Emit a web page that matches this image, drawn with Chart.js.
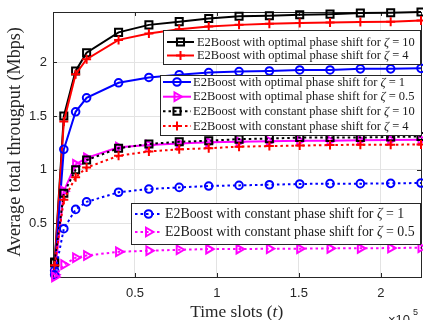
<!DOCTYPE html>
<html>
<head>
<meta charset="utf-8">
<script src="https://cdn.jsdelivr.net/npm/chart.js@4.4.1/dist/chart.umd.min.js"></script>
<style>
  html, body { margin: 0; padding: 0; background: #fff; }
  #wrap { width: 423px; height: 320px; }
</style>
</head>
<body>
<div id="wrap"><canvas id="chart" width="423" height="320"></canvas></div>
<script>
// Time slots where the markers sit
const timeSlots = [1000, 6600, 13800, 20500, 40000, 58500, 77000, 95000, 113500, 132000, 150500, 169000, 187500, 206000, 224500];

// Optimal phase shift
const optZeta10 = [0.13, 1.50, 1.92, 2.09, 2.28, 2.35, 2.38, 2.41, 2.43, 2.435, 2.445, 2.45, 2.46, 2.463, 2.47];
const optZeta4  = [0.11, 1.45, 1.89, 2.03, 2.21, 2.27, 2.31, 2.335, 2.35, 2.36, 2.367, 2.373, 2.376, 2.38, 2.39];
const optZeta1  = [0.06, 1.19, 1.54, 1.67, 1.81, 1.86, 1.885, 1.905, 1.915, 1.92, 1.93, 1.93, 1.94, 1.94, 1.945];
const optZeta05 = [0.02, 0.80, 1.05, 1.11, 1.21, 1.23, 1.245, 1.255, 1.26, 1.265, 1.27, 1.27, 1.275, 1.278, 1.28];

// Constant phase shift
const constZeta10 = [0.14, 0.78, 1.00, 1.09, 1.20, 1.24, 1.26, 1.27, 1.285, 1.29, 1.30, 1.30, 1.30, 1.305, 1.31];
const constZeta4  = [0.11, 0.72, 0.93, 1.02, 1.13, 1.17, 1.19, 1.20, 1.215, 1.22, 1.225, 1.23, 1.233, 1.233, 1.235];
const constZeta1  = [0.02, 0.45, 0.63, 0.70, 0.79, 0.82, 0.835, 0.848, 0.854, 0.86, 0.867, 0.87, 0.87, 0.873, 0.876];
const constZeta05 = [0.00, 0.115, 0.18, 0.20, 0.235, 0.245, 0.254, 0.26, 0.26, 0.264, 0.264, 0.267, 0.267, 0.27, 0.273];

const xTicks = [50000, 100000, 150000, 200000];
const yTicks = [0.5, 1, 1.5, 2];

const seriesNames = [
  ['optimal', '10'], ['optimal', '4'], ['optimal', '1'], ['optimal', '0.5'],
  ['constant', '10'], ['constant', '4'], ['constant', '1'], ['constant', '0.5']
];

const serif = '"Liberation Serif", "DejaVu Serif", serif';
const sans = '"Liberation Sans", Arial, sans-serif';

function toPoints(values) {
  return timeSlots.map((t, i) => ({ x: t, y: values[i] }));
}

// style helper for each curve
function makeSeries(i, values, color, marker, dotted) {
  const radius = { rect: 5, circle: 3.8, triangle: 5, cross: 4.5 }[marker];
  return {
    label: 'E2Boost with ' + seriesNames[i][0] + ' phase shift for ζ = ' + seriesNames[i][1],
    data: toPoints(values),
    borderColor: color,
    backgroundColor: 'rgba(0,0,0,0)',
    borderWidth: 2,
    borderDash: dotted ? [2.5, 3] : [],
    tension: 0,
    pointStyle: marker,
    pointRotation: marker === 'triangle' ? 90 : 0,
    pointRadius: radius,
    pointBorderWidth: 2,
    pointBorderColor: color,
    pointBackgroundColor: 'rgba(0,0,0,0)',
    clip: false,
    order: 8 - i,
    marker: marker
  };
}

const datasets = [
  makeSeries(0, optZeta10, '#000000', 'rect', false),
  makeSeries(1, optZeta4, '#ff0000', 'cross', false),
  makeSeries(2, optZeta1, '#0000ff', 'circle', false),
  makeSeries(3, optZeta05, '#ff00ff', 'triangle', false),
  makeSeries(4, constZeta10, '#000000', 'rect', true),
  makeSeries(5, constZeta4, '#ff0000', 'cross', true),
  makeSeries(6, constZeta1, '#0000ff', 'circle', true),
  makeSeries(7, constZeta05, '#ff00ff', 'triangle', true)
];

// the three legend boxes of the figure (fit = width of the longest row)
const legendBoxes = [
  { rect: [163, 30, 257, 34], rows: [42, 55.5], lineX: [167, 194], textX: 197, fit: 218, items: [0, 1] },
  { rect: [160, 75, 261, 60], rows: [82, 96.7, 111.3, 126], lineX: [163, 191], textX: 193, fit: 222, items: [2, 3, 4, 5] },
  { rect: [131, 203, 289, 41], rows: [214, 232], lineX: [135, 162], textX: 165, fit: 250, items: [6, 7] }
];

function drawMarker(ctx, marker, x, y, r, color) {
  ctx.save();
  ctx.strokeStyle = color;
  ctx.lineWidth = 2;
  ctx.setLineDash([]);
  ctx.beginPath();
  if (marker === 'rect') {
    const s = r * Math.SQRT1_2;
    ctx.rect(x - s, y - s, 2 * s, 2 * s);
  } else if (marker === 'circle') {
    ctx.arc(x, y, r, 0, Math.PI * 2);
  } else if (marker === 'triangle') {
    for (let k = 0; k < 3; k++) {
      const a = Math.PI / 2 + k * 2 * Math.PI / 3;
      const px = x + Math.sin(a) * r, py = y - Math.cos(a) * r;
      if (k === 0) ctx.moveTo(px, py); else ctx.lineTo(px, py);
    }
    ctx.closePath();
  } else {
    ctx.moveTo(x - r, y); ctx.lineTo(x + r, y);
    ctx.moveTo(x, y - r); ctx.lineTo(x, y + r);
  }
  ctx.stroke();
  ctx.restore();
}

// text made of pieces, some in italic
function drawParts(ctx, parts, x, y, size, family) {
  let cx = x;
  parts.forEach(p => {
    ctx.font = (p.it ? 'italic ' : '') + size + 'px ' + family;
    ctx.fillText(p.t, cx, y);
    cx += ctx.measureText(p.t).width;
  });
}

function partsWidth(ctx, parts, size, family) {
  let w = 0;
  parts.forEach(p => {
    ctx.font = (p.it ? 'italic ' : '') + size + 'px ' + family;
    w += ctx.measureText(p.t).width;
  });
  return w;
}

function labelParts(i) {
  return [
    { t: 'E2Boost with ' + seriesNames[i][0] + ' phase shift for ', it: false },
    { t: 'ζ', it: true },
    { t: ' = ' + seriesNames[i][1], it: false }
  ];
}

const decorations = {
  id: 'decorations',
  beforeDatasetsDraw(chart) {
    const ctx = chart.ctx;
    const a = chart.chartArea;
    const xs = chart.scales.x, ys = chart.scales.y;
    ctx.save();
    ctx.strokeStyle = '#262626';
    ctx.lineWidth = 1;
    ctx.beginPath();
    xTicks.forEach(v => {
      const px = Math.round(xs.getPixelForValue(v)) + 0.5;
      ctx.moveTo(px, a.bottom); ctx.lineTo(px, a.bottom - 4);
      ctx.moveTo(px, a.top); ctx.lineTo(px, a.top + 4);
    });
    yTicks.forEach(v => {
      const py = Math.round(ys.getPixelForValue(v)) + 0.5;
      ctx.moveTo(a.left, py); ctx.lineTo(a.left + 4, py);
      ctx.moveTo(a.right, py); ctx.lineTo(a.right - 4, py);
    });
    ctx.stroke();
    ctx.strokeRect(Math.round(a.left) + 0.5, Math.round(a.top) + 0.5, Math.round(a.right - a.left), Math.round(a.bottom - a.top));
    ctx.restore();
  },
  afterDraw(chart) {
    const ctx = chart.ctx;
    ctx.save();
    ctx.textBaseline = 'middle';
    ctx.textAlign = 'left';

    // legends
    legendBoxes.forEach(box => {
      const [bx, by, bw, bh] = box.rect;
      ctx.fillStyle = '#ffffff';
      ctx.fillRect(bx, by, bw, bh);
      ctx.strokeStyle = '#262626';
      ctx.lineWidth = 1;
      ctx.strokeRect(bx + 0.5, by + 0.5, bw, bh);
      const widest = Math.max(...box.items.map(i => partsWidth(ctx, labelParts(i), 10, serif)));
      const size = 10 * box.fit / widest;
      box.items.forEach((idx, r) => {
        const ds = chart.data.datasets[idx];
        const y = box.rows[r];
        ctx.save();
        ctx.strokeStyle = ds.borderColor;
        ctx.lineWidth = 2;
        ctx.setLineDash(ds.borderDash);
        ctx.beginPath();
        ctx.moveTo(box.lineX[0], y);
        ctx.lineTo(box.lineX[1], y);
        ctx.stroke();
        ctx.restore();
        drawMarker(ctx, ds.marker, (box.lineX[0] + box.lineX[1]) / 2, y, ds.pointRadius, ds.borderColor);
        ctx.fillStyle = '#1a1a1a';
        drawParts(ctx, labelParts(idx), box.textX, y + 0.5, size, serif);
      });
    });

    // x axis title
    const xParts = [{ t: 'Time slots (', it: false }, { t: 't', it: true }, { t: ')', it: false }];
    const xSize = 10 * 93 / partsWidth(ctx, xParts, 10, serif);
    const xw = partsWidth(ctx, xParts, xSize, serif);
    ctx.fillStyle = '#262626';
    drawParts(ctx, xParts, 236.7 - xw / 2, 312.5, xSize, serif);

    // y axis title
    const yText = 'Average total througput (Mbps)';
    ctx.font = '10px ' + serif;
    const ySize = 10 * 230 / ctx.measureText(yText).width;
    ctx.save();
    ctx.translate(15, 142);
    ctx.rotate(-Math.PI / 2);
    ctx.textAlign = 'center';
    ctx.font = ySize + 'px ' + serif;
    ctx.fillText(yText, 0, 0);
    ctx.restore();

    // exponent of the x axis
    ctx.textAlign = 'left';
    ctx.textBaseline = 'alphabetic';
    ctx.font = '13px ' + sans;
    ctx.fillText('×10', 388, 324);
    ctx.font = '9px ' + sans;
    ctx.fillText('5', 413, 315);
    ctx.restore();
  }
};

new Chart(document.getElementById('chart'), {
  type: 'line',
  data: { datasets: datasets },
  options: {
    responsive: false,
    animation: false,
    devicePixelRatio: 1,
    layout: { autoPadding: false, padding: { left: 0, right: 2, top: 12, bottom: 0 } },
    plugins: { legend: { display: false }, tooltip: { enabled: false } },
    scales: {
      x: {
        type: 'linear',
        min: 0,
        max: 224500,
        afterBuildTicks: scale => { scale.ticks = xTicks.map(v => ({ value: v })); },
        afterFit: scale => { scale.height = 43; scale.paddingLeft = 0; scale.paddingRight = 0; },
        grid: { color: '#e3e3e3', drawTicks: false },
        border: { display: false },
        ticks: {
          padding: 9,
          color: '#262626',
          font: { family: sans, size: 13 },
          maxRotation: 0,
          callback: v => String(v / 100000)
        }
      },
      y: {
        type: 'linear',
        min: 0,
        max: 2.47,
        afterBuildTicks: scale => { scale.ticks = yTicks.map(v => ({ value: v })); },
        afterFit: scale => { scale.width = 53; scale.paddingTop = 0; scale.paddingBottom = 0; },
        grid: { color: '#e3e3e3', drawTicks: false },
        border: { display: false },
        ticks: {
          padding: 6,
          color: '#262626',
          font: { family: sans, size: 13 },
          callback: v => String(v)
        }
      }
    }
  },
  plugins: [decorations]
});
</script>
</body>
</html>
